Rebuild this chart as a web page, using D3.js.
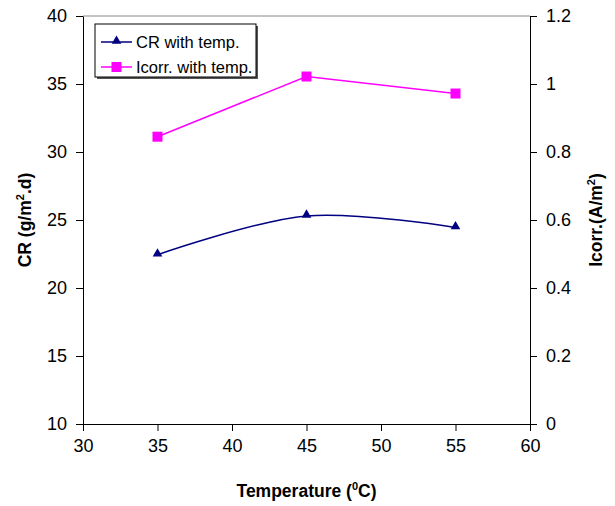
<!DOCTYPE html>
<html>
<head>
<meta charset="utf-8">
<script src="https://cdn.jsdelivr.net/npm/d3@7"></script>
<style>
  body { margin: 0; background: #fff; }
  text { font-family: "Liberation Sans", Arial, sans-serif; }
</style>
</head>
<body>
<svg id="chart" width="615" height="506"></svg>
<script>
// data
var temps = [35, 45, 55];
var crValues = [22.45, 25.3, 24.45];
var icorrValues = [0.845, 1.022, 0.972];
var xTicks = [30, 35, 40, 45, 50, 55, 60];
var leftTicks = [10, 15, 20, 25, 30, 35, 40];
var rightTicks = [0, 0.2, 0.4, 0.6, 0.8, 1, 1.2];
var seriesNames = ["CR with temp.", "Icorr. with temp."];

var svg = d3.select("#chart");
var plotL = 83, plotR = 530, plotT = 16, plotB = 424;

var x = d3.scaleLinear().domain([30, 60]).range([plotL, plotR]);
var yL = d3.scaleLinear().domain([10, 40]).range([plotB, plotT]);
var yR = d3.scaleLinear().domain([0, 1.2]).range([plotB, plotT]);

// plot frame: gray top edge
svg.append("line")
  .attr("x1", plotL).attr("x2", plotR)
  .attr("y1", plotT).attr("y2", plotT)
  .attr("stroke", "#888").attr("stroke-width", 1);

var fmtR = function (d) { return d === 0 || d === 1 ? String(d) : d3.format(".1f")(d); };

var gx = svg.append("g").attr("transform", "translate(0," + plotB + ")")
  .call(d3.axisBottom(x).tickValues(xTicks).tickSize(7).tickSizeOuter(0).tickPadding(8));
var gl = svg.append("g").attr("transform", "translate(" + plotL + ",0)")
  .call(d3.axisLeft(yL).tickValues(leftTicks).tickSize(7).tickSizeOuter(0).tickPadding(9));
var gr = svg.append("g").attr("transform", "translate(" + plotR + ",0)")
  .call(d3.axisRight(yR).tickValues(rightTicks).tickFormat(fmtR).tickSize(7).tickSizeOuter(0).tickPadding(9));

[gx, gl, gr].forEach(function (g) {
  g.selectAll("path").attr("stroke", "#000");
  g.selectAll("line").attr("stroke", "#000");
  g.selectAll("text").attr("fill", "#000")
    .style("font-size", "18px").style("font-family", "Liberation Sans, Arial, sans-serif");
});

// CR series (smoothed line, navy triangles)
var crData = temps.map(function (t, i) { return [t, crValues[i]]; });
svg.append("path")
  .datum(crData)
  .attr("fill", "none")
  .attr("stroke", "#000080")
  .attr("stroke-width", 1.5)
  .attr("d", d3.line()
    .x(function (d) { return x(d[0]); })
    .y(function (d) { return yL(d[1]); })
    .curve(d3.curveCatmullRom.alpha(0.5)));

var tri = d3.symbol().type(d3.symbolTriangle).size(40);
svg.selectAll(".cr")
  .data(crData).enter().append("path")
  .attr("class", "cr")
  .attr("d", tri)
  .attr("fill", "#000080")
  .attr("transform", function (d) { return "translate(" + x(d[0]) + "," + (yL(d[1]) - 1) + ")"; });

// Icorr series (straight line, magenta squares)
var icData = temps.map(function (t, i) { return [t, icorrValues[i]]; });
svg.append("path")
  .datum(icData)
  .attr("fill", "none")
  .attr("stroke", "#ff00ff")
  .attr("stroke-width", 1.5)
  .attr("d", d3.line()
    .x(function (d) { return x(d[0]); })
    .y(function (d) { return yR(d[1]); }));

svg.selectAll(".ic")
  .data(icData).enter().append("rect")
  .attr("class", "ic")
  .attr("x", function (d) { return x(d[0]) - 5; })
  .attr("y", function (d) { return yR(d[1]) - 5; })
  .attr("width", 10).attr("height", 10)
  .attr("fill", "#ff00ff");

// legend with shadow
var lg = svg.append("g").attr("transform", "translate(95,24)");
lg.append("rect").attr("x", 2).attr("y", 2).attr("width", 161).attr("height", 53).attr("fill", "#555");
lg.append("rect").attr("x", 0).attr("y", 0).attr("width", 161).attr("height", 53)
  .attr("fill", "#fff").attr("stroke", "#000").attr("stroke-width", 1);

var rows = lg.selectAll(".row").data(seriesNames).enter().append("g")
  .attr("transform", function (d, i) { return "translate(0," + (18 + i * 25) + ")"; });
rows.append("line")
  .attr("x1", 6).attr("x2", 37).attr("y1", 0).attr("y2", 0)
  .attr("stroke", function (d, i) { return i === 0 ? "#000080" : "#ff00ff"; })
  .attr("stroke-width", 1.5);
rows.filter(function (d, i) { return i === 0; }).append("path")
  .attr("d", tri).attr("fill", "#000080").attr("transform", "translate(21.5,-1)");
rows.filter(function (d, i) { return i === 1; }).append("rect")
  .attr("x", 16.5).attr("y", -5).attr("width", 10).attr("height", 10).attr("fill", "#ff00ff");
rows.append("text")
  .attr("x", 41).attr("y", 6)
  .style("font-size", "16.5px")
  .text(function (d) { return d; });

// axis titles
var xt = svg.append("text")
  .attr("x", (plotL + plotR) / 2).attr("y", 497)
  .attr("text-anchor", "middle")
  .style("font-size", "17.5px").style("font-weight", "bold");
xt.append("tspan").text("Temperature (");
xt.append("tspan").attr("dy", -7).style("font-size", "11px").text("0");
xt.append("tspan").attr("dy", 7).text("C)");

var lt = svg.append("text")
  .attr("transform", "translate(31," + (plotT + plotB) / 2 + ") rotate(-90)")
  .attr("text-anchor", "middle")
  .style("font-size", "17.5px").style("font-weight", "bold");
lt.append("tspan").text("CR (g/m");
lt.append("tspan").attr("dy", -7).style("font-size", "11px").text("2");
lt.append("tspan").attr("dy", 7).text(".d)");

var rt = svg.append("text")
  .attr("transform", "translate(602," + (plotT + plotB) / 2 + ") rotate(-90)")
  .attr("text-anchor", "middle")
  .style("font-size", "17.5px").style("font-weight", "bold");
rt.append("tspan").text("Icorr.(A/m");
rt.append("tspan").attr("dy", -7).style("font-size", "11px").text("2");
rt.append("tspan").attr("dy", 7).text(")");
</script>
</body>
</html>
